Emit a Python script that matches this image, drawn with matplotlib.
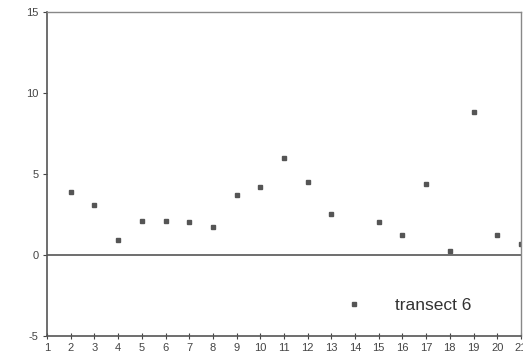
import matplotlib.pyplot as plt

plt.rcParams["font.family"] = ["Liberation Sans", "DejaVu Sans"]
plt.rcParams["axes.unicode_minus"] = False

# === Data ===
transect = [2, 3, 4, 5, 6, 7, 8, 9, 10, 11, 12, 13, 15, 16, 17, 18, 19, 20, 21]
values = [3.9, 3.1, 0.9, 2.1, 2.1, 2.0, 1.7, 3.7, 4.2, 6.0, 4.5, 2.5,
          2.0, 1.2, 4.4, 0.25, 8.8, 1.2, 0.7]
x_ticks = list(range(1, 22))
y_ticks = [-5, 0, 5, 10, 15]
label = "transect 6"

# === Figure ===
fig = plt.figure(figsize=(5.23, 3.6), dpi=100)
ax = fig.add_axes([0.09, 0.067, 0.906, 0.9])

ax.plot(transect, values, linestyle="none", marker="s", markersize=3.2,
        color="#555555", label=label)
ax.axhline(0, color="#555555", linewidth=1.2)

ax.set_xlim(1, 21)
ax.set_ylim(-5, 15)
ax.set_xticks(x_ticks)
ax.set_yticks(y_ticks)
ax.tick_params(axis="both", labelsize=8, colors="#444444", length=3,
               width=0.8, pad=3)
ax.tick_params(axis="x", direction="inout", length=4)

for side in ["left", "bottom"]:
    ax.spines[side].set_color("#555555")
    ax.spines[side].set_linewidth(1.2)
for side in ["top", "right"]:
    ax.spines[side].set_color("#888888")
    ax.spines[side].set_linewidth(1.0)

ax.legend(loc="center left", bbox_to_anchor=(0.631, 0.093), frameon=False,
          fontsize=12.5, handlelength=0.9, handletextpad=1.9, borderpad=0,
          borderaxespad=0, markerscale=1.0, labelcolor="#333333")

fig.savefig("out.png", dpi=100)
